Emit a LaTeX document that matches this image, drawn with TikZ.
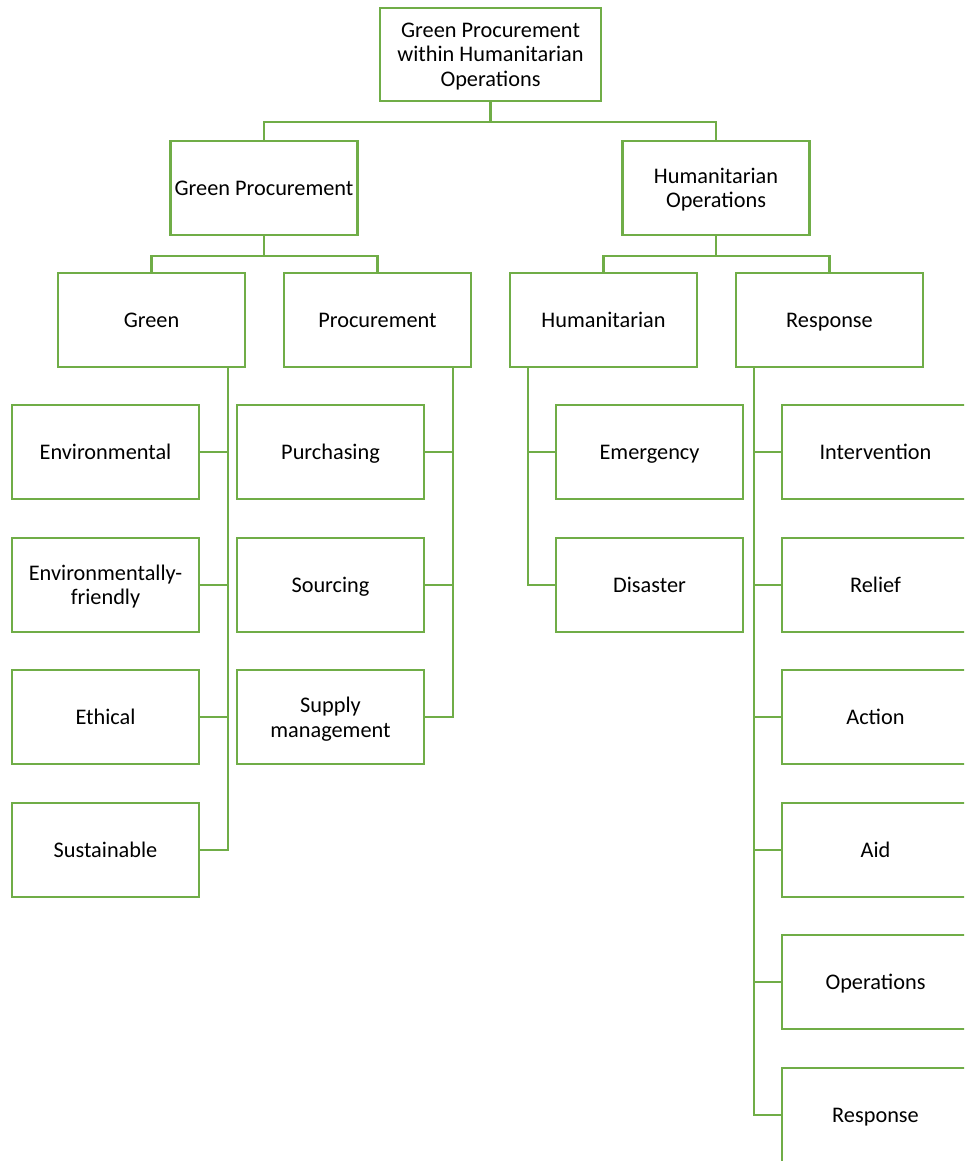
\documentclass[tikz,border=0pt]{standalone}
\usepackage{fontspec}
\setmainfont{Carlito}
\definecolor{gr}{HTML}{70AD47}
\begin{document}
\begin{tikzpicture}[x=1pt,y=-1pt,
 box/.style={draw=gr,line width=2.3pt,fill=white,minimum width=187pt,minimum height=94pt,inner sep=0pt,align=center,text depth=0pt,font=\fontsize{22.3}{24.5}\selectfont},
 conn/.style={draw=gr,line width=2.3pt}]
\useasboundingbox (0,0) rectangle (964,1161);
\clip (0,0) rectangle (964,1161);
% level 0
\node[box,minimum width=221pt,minimum height=93pt] (top) at (490.5,54.5) {Green Procurement\\within Humanitarian\\Operations};
% level 1
\node[box] (gp) at (264,188) {Green Procurement};
\node[box] (ho) at (716,188) {Humanitarian\\Operations};
% level 2
\node[box] (green) at (151.5,320) {Green};
\node[box] (proc) at (377.5,320) {Procurement};
\node[box] (hum) at (603.5,320) {Humanitarian};
\node[box] (resp) at (829.5,320) {Response};
% green children
\node[box] (env) at (105.5,452) {Environmental};
\node[box] (envf) at (105.5,585) {Environmentally-\\friendly};
\node[box] (eth) at (105.5,717) {Ethical};
\node[box] (sus) at (105.5,850) {Sustainable};
% procurement children
\node[box] (pur) at (330.5,452) {Purchasing};
\node[box] (sou) at (330.5,585) {Sourcing};
\node[box] (sup) at (330.5,717) {Supply\\management};
% humanitarian children
\node[box] (eme) at (649.5,452) {Emergency};
\node[box] (dis) at (649.5,585) {Disaster};
% response children
\node[box] (int) at (875.5,452) {Intervention};
\node[box] (rel) at (875.5,585) {Relief};
\node[box] (act) at (875.5,717) {Action};
\node[box] (aid) at (875.5,850) {Aid};
\node[box] (ope) at (875.5,982) {Operations};
\node[box] (res2) at (875.5,1115) {Response};
% connectors
\draw[conn] (top.south) -- ++(0,20) -| (gp.north);
\draw[conn] (top.south) -- ++(0,20) -| (ho.north);
\draw[conn] (gp.south) -- ++(0,20) -| (green.north);
\draw[conn] (gp.south) -- ++(0,20) -| (proc.north);
\draw[conn] (ho.south) -- ++(0,20) -| (hum.north);
\draw[conn] (ho.south) -- ++(0,20) -| (resp.north);
\foreach \c in {env,envf,eth,sus}
  \draw[conn] ([xshift=-18pt]green.south east) |- (\c.east);
\foreach \c in {pur,sou,sup}
  \draw[conn] ([xshift=-19pt]proc.south east) |- (\c.east);
\foreach \c in {eme,dis}
  \draw[conn] ([xshift=19pt]hum.south west) |- (\c.west);
\foreach \c in {int,rel,act,aid,ope,res2}
  \draw[conn] ([xshift=19pt]resp.south west) |- (\c.west);
\end{tikzpicture}
\end{document}
